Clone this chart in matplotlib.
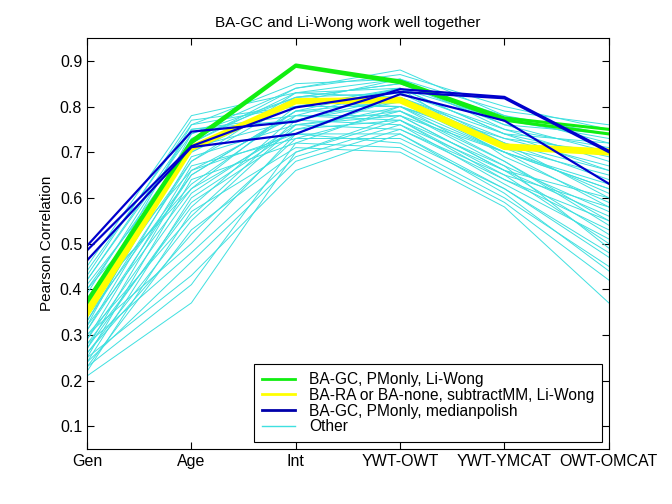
import matplotlib
matplotlib.use('Agg')
import matplotlib.pyplot as plt

# comparison columns
stages = ['Gen', 'Age', 'Int', 'YWT-OWT', 'YWT-YMCAT', 'OWT-OMCAT']

# BA-GC, PMonly, Li-Wong
green_runs = [
    [0.375, 0.725, 0.891, 0.856, 0.775, 0.750],
    [0.370, 0.720, 0.888, 0.852, 0.770, 0.740],
]
# BA-RA or BA-none, subtractMM, Li-Wong
yellow_runs = [
    [0.355, 0.711, 0.813, 0.816, 0.714, 0.703],
    [0.345, 0.708, 0.810, 0.812, 0.710, 0.698],
]
# BA-GC, PMonly, medianpolish
blue_runs = [
    [0.495, 0.745, 0.767, 0.838, 0.821, 0.703],
    [0.485, 0.713, 0.798, 0.832, 0.818, 0.700],
    [0.463, 0.711, 0.740, 0.827, 0.769, 0.631],
]
# everything else
other_runs = [
    [0.21, 0.37, 0.70, 0.78, 0.66, 0.52],
    [0.23, 0.41, 0.72, 0.80, 0.70, 0.58],
    [0.25, 0.43, 0.66, 0.74, 0.62, 0.48],
    [0.30, 0.50, 0.74, 0.82, 0.72, 0.60],
    [0.26, 0.55, 0.76, 0.79, 0.68, 0.55],
    [0.28, 0.58, 0.78, 0.84, 0.74, 0.66],
    [0.32, 0.62, 0.80, 0.83, 0.72, 0.64],
    [0.24, 0.60, 0.75, 0.77, 0.65, 0.50],
    [0.34, 0.65, 0.79, 0.81, 0.70, 0.62],
    [0.36, 0.68, 0.81, 0.86, 0.76, 0.70],
    [0.38, 0.70, 0.82, 0.85, 0.78, 0.74],
    [0.40, 0.72, 0.83, 0.84, 0.77, 0.73],
    [0.42, 0.74, 0.84, 0.87, 0.80, 0.75],
    [0.44, 0.76, 0.85, 0.86, 0.79, 0.76],
    [0.45, 0.78, 0.83, 0.82, 0.74, 0.69],
    [0.43, 0.77, 0.80, 0.80, 0.73, 0.67],
    [0.39, 0.75, 0.78, 0.78, 0.70, 0.63],
    [0.35, 0.73, 0.82, 0.83, 0.75, 0.71],
    [0.33, 0.71, 0.77, 0.76, 0.66, 0.56],
    [0.31, 0.69, 0.76, 0.75, 0.64, 0.53],
    [0.29, 0.67, 0.73, 0.73, 0.62, 0.47],
    [0.27, 0.66, 0.74, 0.72, 0.60, 0.45],
    [0.25, 0.64, 0.72, 0.71, 0.59, 0.42],
    [0.22, 0.57, 0.71, 0.70, 0.58, 0.37],
    [0.26, 0.52, 0.73, 0.79, 0.67, 0.57],
    [0.28, 0.48, 0.69, 0.76, 0.63, 0.51],
    [0.30, 0.56, 0.77, 0.81, 0.71, 0.61],
    [0.37, 0.63, 0.79, 0.84, 0.69, 0.59],
    [0.41, 0.70, 0.81, 0.82, 0.71, 0.65],
    [0.34, 0.72, 0.84, 0.88, 0.78, 0.72],
    [0.32, 0.74, 0.82, 0.85, 0.76, 0.74],
    [0.36, 0.76, 0.80, 0.84, 0.74, 0.72],
    [0.38, 0.62, 0.75, 0.80, 0.68, 0.54],
    [0.40, 0.66, 0.78, 0.77, 0.67, 0.49],
    [0.27, 0.59, 0.74, 0.74, 0.61, 0.44],
    [0.29, 0.61, 0.76, 0.78, 0.66, 0.60],
    [0.23, 0.53, 0.70, 0.77, 0.64, 0.55],
    [0.24, 0.46, 0.68, 0.75, 0.65, 0.58],
    [0.33, 0.68, 0.83, 0.86, 0.75, 0.68],
    [0.35, 0.71, 0.81, 0.80, 0.72, 0.66],
    [0.31, 0.65, 0.79, 0.79, 0.70, 0.62],
    [0.42, 0.75, 0.77, 0.82, 0.73, 0.70],
]

plt.rcParams['font.family'] = ['Liberation Sans', 'DejaVu Sans']
plt.rcParams['font.size'] = 11

fig = plt.figure(figsize=(6.72, 5.04), dpi=100)
ax = fig.add_axes([0.1295, 0.109, 0.7765, 0.8156])
x = list(range(1, len(stages) + 1))

for run in other_runs:
    ax.plot(x, run, color='#3fe0e0', lw=0.7)
for run in yellow_runs:
    ax.plot(x, run, color='#ffff00', lw=3.5)
for run in green_runs:
    ax.plot(x, run, color='#11ee11', lw=2.2)
for run in blue_runs:
    ax.plot(x, run, color='#0000cc', lw=1.6)

handles = [
    plt.Line2D([], [], color='#11ee11', lw=2),
    plt.Line2D([], [], color='#ffff00', lw=2),
    plt.Line2D([], [], color='#0000aa', lw=2),
    plt.Line2D([], [], color='#3fe0e0', lw=1),
]
labels = ['BA-GC, PMonly, Li-Wong', 'BA-RA or BA-none, subtractMM, Li-Wong',
          'BA-GC, PMonly, medianpolish', 'Other']
leg = ax.legend(handles, labels, loc='lower right', fancybox=False,
                edgecolor='black', framealpha=1, borderaxespad=0.45,
                handlelength=2.1, handletextpad=0.9, labelspacing=0.05,
                borderpad=0.5, fontsize=11.2)
leg.get_frame().set_linewidth(0.8)

ax.set_xlim(1, 6)
ax.set_ylim(0.05, 0.95)
ax.set_xticks(x)
ax.set_xticklabels(stages)
ax.set_yticks([0.1, 0.2, 0.3, 0.4, 0.5, 0.6, 0.7, 0.8, 0.9])
ax.tick_params(direction='in', top=True, right=True, length=5, labelsize=11.5)
ax.set_ylabel('Pearson Correlation', fontsize=11)
ax.set_title('BA-GC and Li-Wong work well together', fontsize=11, pad=8)

fig.savefig('out.png', dpi=100)
